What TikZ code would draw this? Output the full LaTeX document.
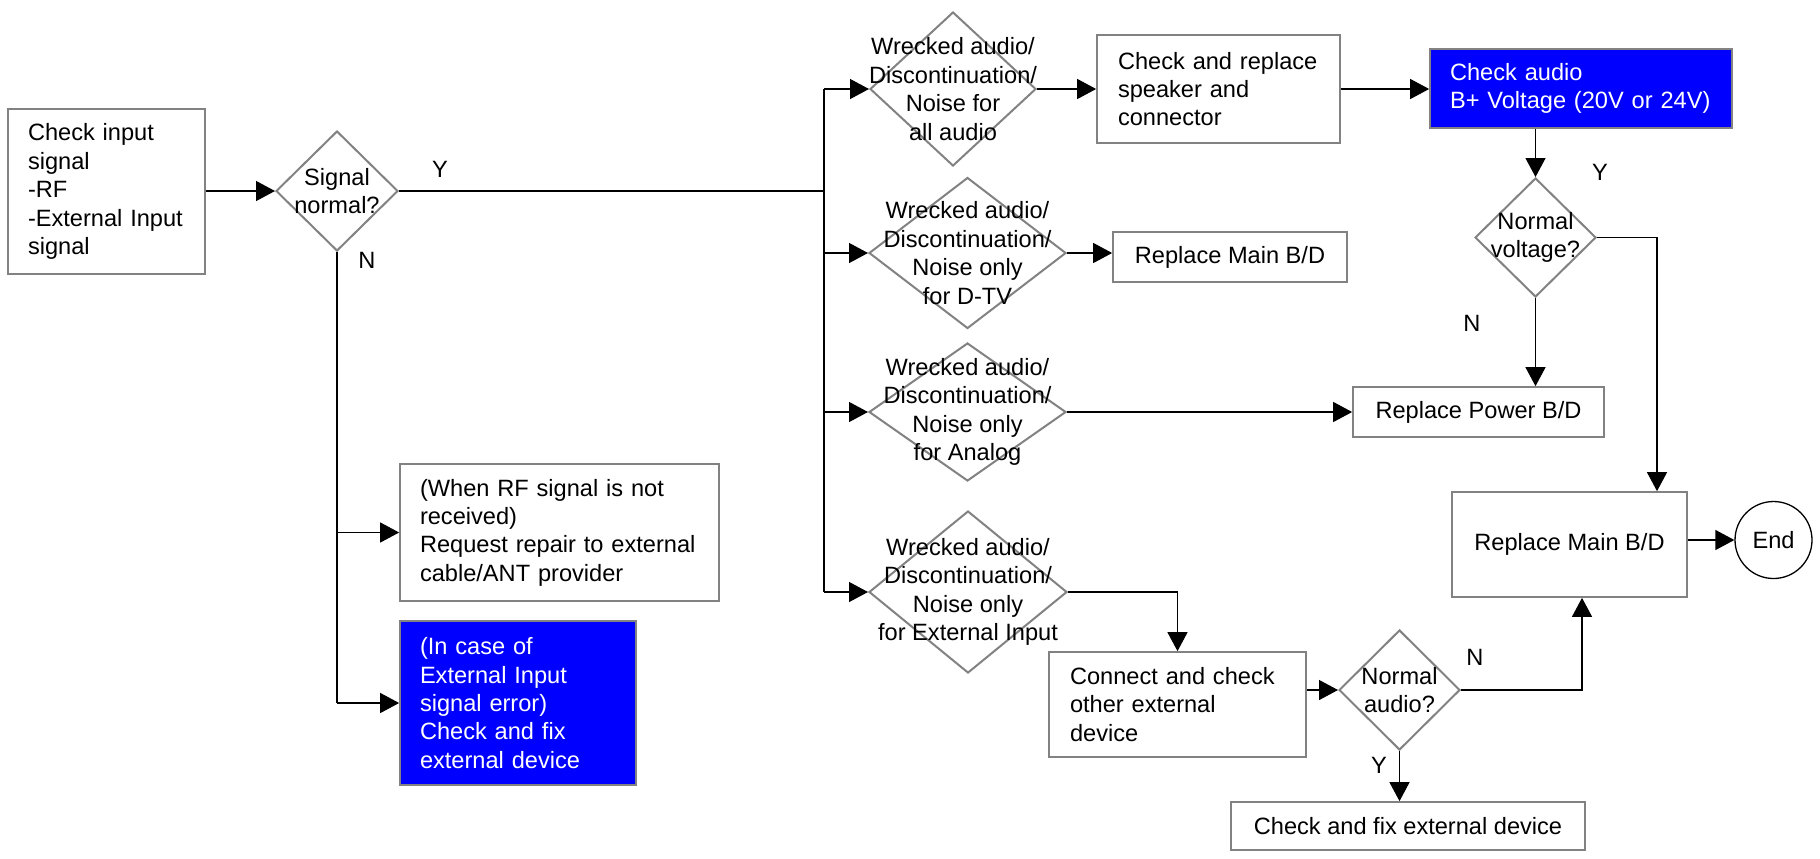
\documentclass[tikz,border=0pt]{standalone}
\usepackage{fontspec}
\setmainfont{Liberation Sans}
\usetikzlibrary{shapes.geometric,arrows.meta,calc}
\definecolor{bgray}{RGB}{130,130,130}
\definecolor{pureblue}{RGB}{0,0,255}
\begin{document}
\begin{tikzpicture}[x=0.5pt,y=-0.5pt,
  every node/.style={font=\fontsize{11.8pt}{14.2pt}\selectfont},
  box/.style={draw=bgray, line width=0.85pt, rectangle, inner ysep=0pt, fill=white},
  lbox/.style={box, align=left},
  cbox/.style={box, align=center, inner xsep=0pt},
  bluebox/.style={box, fill=pureblue, text=white, align=left},
  dia/.style={draw=bgray, line width=1pt, diamond, inner sep=0pt},
  dtext/.style={align=center, inner sep=0pt},
  arr/.style={line width=0.65pt, -{Triangle[length=9.5pt,width=10pt]}},
  ln/.style={line width=0.65pt},
  lab/.style={inner sep=0pt}
]
\fill[white] (0,0) rectangle (1820,858);
\useasboundingbox (0,0) rectangle (1820,858);

% boxes
\node[lbox, minimum width=98.5pt, minimum height=82.5pt, inner xsep=10pt, text width=78.5pt] (input) at (106.5,191.5)
  {Check input\\signal\\-RF\\-External Input\\signal};
\node[lbox, minimum width=121.5pt, minimum height=54pt, inner xsep=10.5pt, text width=100.5pt] (speaker) at (1218.5,89)
  {Check and replace\\speaker and\\connector};
\node[bluebox, minimum width=151pt, minimum height=39.5pt, inner xsep=10pt, text width=131pt] (bplus) at (1581,88.5)
  {Check audio\\B+ Voltage (20V or 24V)};
\node[cbox, minimum width=117pt, minimum height=25pt] (rmain) at (1230,257) {Replace Main B/D};
\node[cbox, minimum width=125.5pt, minimum height=25pt] (rpower) at (1478.5,412) {Replace Power B/D};
\node[lbox, minimum width=159.5pt, minimum height=68.5pt, inner xsep=10pt, text width=139.5pt] (rf) at (559.5,532.5)
  {(When RF signal is not\\received)\\Request repair to external\\cable/ANT provider};
\node[bluebox, minimum width=118pt, minimum height=82pt, inner xsep=10pt, text width=98pt] (blue2) at (518,703)
  {(In case of\\External Input\\signal error)\\Check and fix\\external device};
\node[cbox, minimum width=117.5pt, minimum height=52.5pt] (bigmain) at (1569.5,544.5) {Replace Main B/D};
\node[lbox, minimum width=128.5pt, minimum height=52.5pt, inner xsep=10.5pt, text width=107.5pt] (connect) at (1177.5,704.5)
  {Connect and check\\other external\\device};
\node[cbox, minimum width=177pt, minimum height=24pt] (checkfix) at (1408,826) {Check and fix external device};
\node[draw=black, line width=0.65pt, circle, minimum size=38.5pt, inner sep=0pt] (end) at (1773.5,540) {End};

% diamonds
\node[dia, minimum width=61pt, minimum height=60pt] (sig) at (337,191) {};
\node[dtext] (sigt) at (sig) {Signal\\normal?};
\node[dia, minimum width=83pt, minimum height=77pt] (d1) at (953,89) {};
\node[dtext] (d1t) at (d1) {Wrecked audio/\\Discontinuation/\\Noise for\\all audio};
\node[dia, minimum width=98.5pt, minimum height=75.5pt] (d2) at (967.5,253) {};
\node[dtext] (d2t) at (d2) {Wrecked audio/\\Discontinuation/\\Noise only\\for D-TV};
\node[dia, minimum width=98.5pt, minimum height=69pt] (d3) at (967.5,412) {};
\node[dtext] (d3t) at (d3) {Wrecked audio/\\Discontinuation/\\Noise only\\for Analog};
\node[dia, minimum width=99pt, minimum height=81pt] (d4) at (968,592) {};
\node[dtext] (d4t) at (d4) {Wrecked audio/\\Discontinuation/\\Noise only\\for External Input};
\node[dia, minimum width=60.5pt, minimum height=59.5pt] (volt) at (1535.5,237.5) {};
\node[dtext] (voltt) at (volt) {Normal\\voltage?};
\node[dia, minimum width=60.5pt, minimum height=60pt] (audio) at (1399.5,690) {};
\node[dtext] (audiot) at (audio) {Normal\\audio?};

% connectors
\coordinate (tT) at (824,89);
\coordinate (tB) at (824,592);
\draw[arr] (input.east |- sig.west) -- (sig.west);
\draw[ln] (sig.east) -- (sig.east -| tT);
\draw[ln] (tT) -- (tB);
\draw[arr] (tT) -- (d1.west);
\draw[arr] (d2.west -| tT) -- (d2.west);
\draw[arr] (d3.west -| tT) -- (d3.west);
\draw[arr] (tB) -- (d4.west);
\draw[ln] (sig.south) -- (sig.south |- blue2.west);
\draw[arr] (sig.south |- rf.west) -- (rf.west);
\draw[arr] (sig.south |- blue2.west) -- (blue2.west);
\draw[arr] (d1.east) -- (d1.east -| speaker.west);
\draw[arr] (speaker.east) -- (speaker.east -| bplus.west);
\draw[arr] (volt.north |- bplus.south) -- (volt.north);
\draw[arr] (volt.south) -- (volt.south |- rpower.north);
\coordinate (vr) at (1657,238);
\draw[arr] (volt.east) -| (vr |- bigmain.north);
\draw[arr] (d2.east) -- (d2.east -| rmain.west);
\draw[arr] (d3.east) -- (d3.east -| rpower.west);
\draw[arr] (d4.east) -| (connect.north);
\draw[arr] (connect.east |- audio.west) -- (audio.west);
\coordinate (ar) at (1582,690);
\draw[arr] (audio.east) -| (ar |- bigmain.south);
\draw[arr] (audio.south) -- (audio.south |- checkfix.north);
\draw[arr] (bigmain.east |- end.west) -- (end.west);

% labels
\node[lab] (ly1) at (440,169) {Y};
\node[lab] (ln1) at (367,260) {N};
\node[lab] (ly2) at (1600,172) {Y};
\node[lab] (ln2) at (1472,323) {N};
\node[lab] (ln3) at (1475,657) {N};
\node[lab] (ly3) at (1379,765) {Y};
\end{tikzpicture}
\end{document}
